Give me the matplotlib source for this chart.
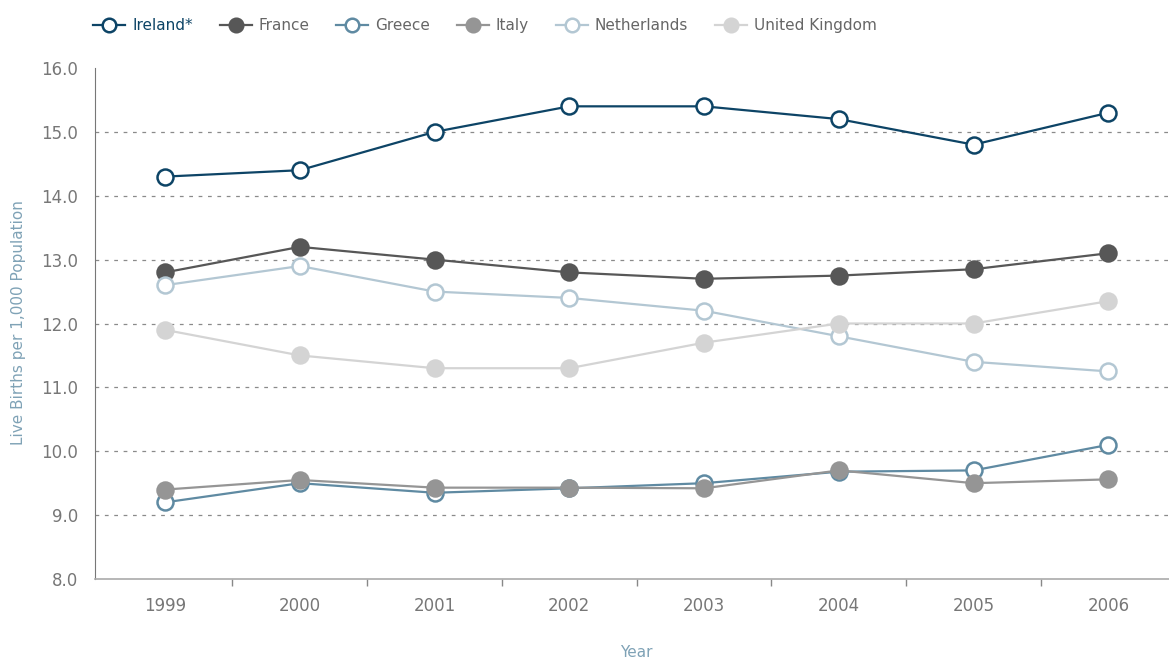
import matplotlib.pyplot as plt
import numpy as np

years = ['1999', '2000', '2001', '2002', '2003', '2004', '2005', '2006']

ireland = [14.3, 14.4, 15.0, 15.4, 15.4, 15.2, 14.8, 15.3]
france = [12.8, 13.2, 13.0, 12.8, 12.7, 12.75, 12.85, 13.1]
greece = [9.2, 9.5, 9.35, 9.42, 9.5, 9.68, 9.7, 10.1]
italy = [9.4, 9.55, 9.43, 9.43, 9.42, 9.7, 9.5, 9.56]
netherlands = [12.6, 12.9, 12.5, 12.4, 12.2, 11.8, 11.4, 11.25]
uk = [11.9, 11.5, 11.3, 11.3, 11.7, 12.0, 12.0, 12.35]

series = [
    ('Ireland*', ireland, '#0d4466', True),
    ('France', france, '#575757', False),
    ('Greece', greece, '#5f8aa2', True),
    ('Italy', italy, '#959595', False),
    ('Netherlands', netherlands, '#b3c7d3', True),
    ('United Kingdom', uk, '#d4d4d4', False),
]

plt.rcParams['font.family'] = ['DejaVu Sans']

fig = plt.figure(figsize=(11.69, 6.59), dpi=100)
ax = fig.add_axes([0.0813, 0.1214, 0.9187, 0.7754])

x = np.arange(len(years))
handles = []
for name, vals, col, hollow in series:
    h, = ax.plot(x, vals, color=col, lw=1.6, marker='o', markersize=11.5,
                 markeredgewidth=1.8, markeredgecolor=col,
                 markerfacecolor='white' if hollow else col, label=name,
                 zorder=3)
    handles.append(h)

ax.set_xlim(-0.52, 7.45)
ax.set_ylim(8, 16)
ax.set_yticks(np.arange(8, 16.1, 1))
ax.set_yticklabels(['%.1f' % v for v in np.arange(8, 16.1, 1)])
ax.set_xticks(x)
ax.set_xticklabels(years)
ax.set_xticks(np.arange(0.5, 7, 1), minor=True)
ax.tick_params(axis='x', which='major', length=0, pad=13, labelsize=12, labelcolor='#777777')
ax.tick_params(axis='x', which='minor', length=5, width=1, color='#888888', direction='out')
ax.tick_params(axis='y', length=0, pad=12, labelsize=12, labelcolor='#777777')

for v in range(9, 16):
    ax.axhline(v, color='#8a8a8a', lw=0.9, ls=(0, (3, 4.5)), zorder=1)

for s in ['top', 'right']:
    ax.spines[s].set_visible(False)
ax.spines['left'].set_color('#777777')
ax.spines['bottom'].set_color('#aaaaaa')
ax.spines['bottom'].set_linewidth(1.2)

fig.text(0.0155, 0.5105, 'Live Births per 1,000 Population', color='#7fa2b6',
         fontsize=11, rotation=90, ha='center', va='center')
fig.text(0.544, 0.0105, 'Year', color='#7fa2b6', fontsize=11, ha='center', va='center')

leg = fig.legend(handles=handles, loc='center left', bbox_to_anchor=(0.068, 0.961),
                 ncol=6, frameon=False, fontsize=11, handlelength=2.1,
                 columnspacing=1.75, handletextpad=0.45, markerscale=0.85)
for t, (name, vals, col, hollow) in zip(leg.get_texts(), series):
    t.set_color('#0d4466' if name == 'Ireland*' else '#666666')

fig.savefig('out.png', dpi=100)
